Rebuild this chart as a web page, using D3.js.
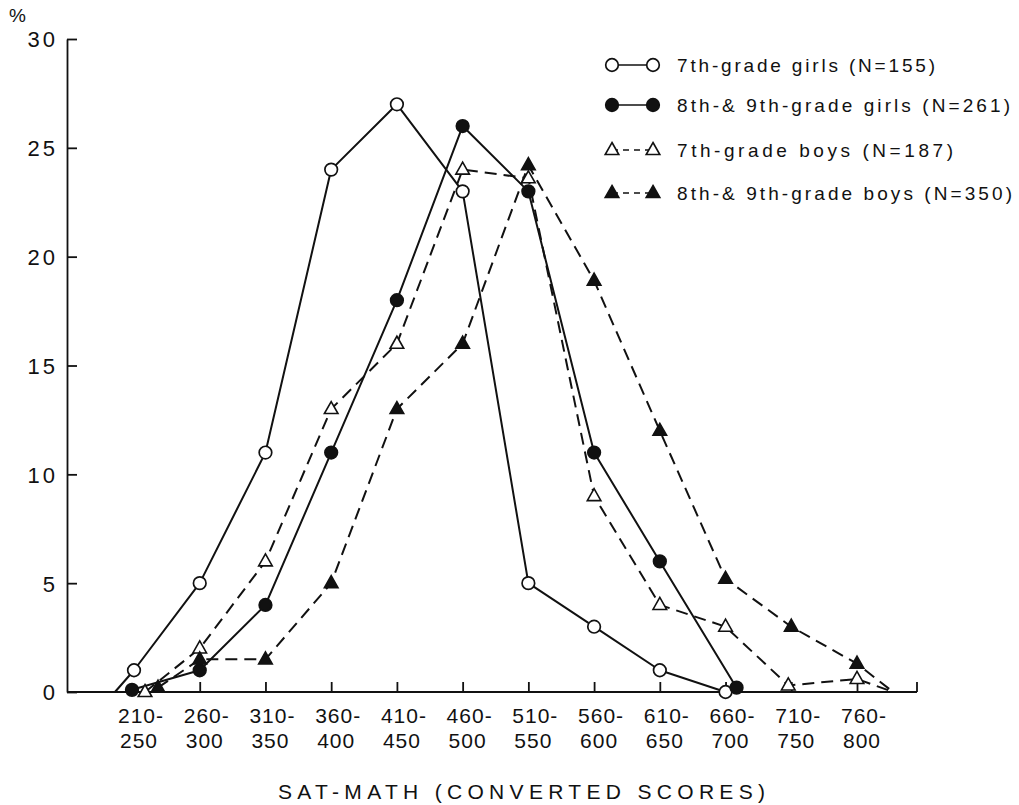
<!DOCTYPE html>
<html>
<head>
<meta charset="utf-8">
<script src="https://cdn.jsdelivr.net/npm/d3@7"></script>
<style>
  html, body { margin: 0; padding: 0; background: #fff; }
  svg text { font-family: "Liberation Sans", Arial, sans-serif; font-weight: 400; fill: #111; }
</style>
</head>
<body>
<svg id="chart" width="1019" height="805"></svg>
<script>
// Score bands (two-line category labels)
const scoreLow  = ["210", "260", "310", "360", "410", "460", "510", "560", "610", "660", "710", "760"];
const scoreHigh = ["250", "300", "350", "400", "450", "500", "550", "600", "650", "700", "750", "800"];
const yTicks = [0, 5, 10, 15, 20, 25, 30];

// Percent of each group in each score band (null = no point)
const girls7  = [1, 5, 11, 24, 27, 23, 5, 3, 1, 0, null, null];
const girls89 = [0.1, 1, 4, 11, 18, 26, 23, 11, 6, 0.2, null, null];
const boys7   = [0, 2, 6, 13, 16, 24, 23.6, 9, 4, 3, 0.3, 0.6];
const boys89  = [0.2, 1.5, 1.5, 5, 13, 16, 24.2, 18.9, 12, 5.2, 3, 1.3];

const seriesNames = [
  "7th-grade girls (N=155)",
  "8th-& 9th-grade girls (N=261)",
  "7th-grade boys (N=187)",
  "8th-& 9th-grade boys (N=350)"
];

// Drawing setup
const axisX = 67, axisTop = 39, axisBottom = 692, axisRight = 917;
const ink = "#111";
const fontFamily = '"Liberation Sans", Arial, sans-serif';

const svg = d3.select("#chart");

const x = d3.scaleLinear().domain([0, 11]).range([134, 857]);
const y = d3.scaleLinear().domain([0, 30]).range([axisBottom, axisTop]);

// Series styles; small sideways nudges keep markers that sit on the baseline apart
const series = [
  { values: girls7,  marker: "circle",   filled: false, dashed: false, leadIn: -0.29, tailOut: null,  nudge: {} },
  { values: girls89, marker: "circle",   filled: true,  dashed: false, leadIn: null,  tailOut: null,  nudge: { 0: -2, 9: 11 } },
  { values: boys7,   marker: "triangle", filled: false, dashed: true,  leadIn: null,  tailOut: 11.55, nudge: { 0: 11, 10: -3 } },
  { values: boys89,  marker: "triangle", filled: true,  dashed: true,  leadIn: null,  tailOut: 11.55, nudge: { 0: 24 } }
];

// Y axis with inward ticks
const yAxis = d3.axisLeft(y)
  .tickValues(yTicks)
  .tickSizeInner(-10)
  .tickSizeOuter(0)
  .tickPadding(9);

const gy = svg.append("g").attr("transform", `translate(${axisX},0)`).call(yAxis);
gy.select(".domain").attr("stroke", ink).attr("stroke-width", 1.8);
gy.selectAll(".tick line").attr("stroke", ink).attr("stroke-width", 1.8);
gy.selectAll(".tick text")
  .attr("font-size", 22)
  .attr("fill", ink)
  .attr("letter-spacing", 3)
  .style("font-family", fontFamily)
  .attr("dy", "0.36em");

svg.append("text")
  .attr("x", 9).attr("y", 22)
  .attr("font-size", 19)
  .text("%");

// Baseline with closing tick at the right end
svg.append("line")
  .attr("x1", axisX).attr("x2", axisRight)
  .attr("y1", axisBottom).attr("y2", axisBottom)
  .attr("stroke", ink).attr("stroke-width", 1.8);
svg.append("line")
  .attr("x1", axisRight).attr("x2", axisRight)
  .attr("y1", axisBottom).attr("y2", axisBottom - 10)
  .attr("stroke", ink).attr("stroke-width", 1.8);

const xAxis = d3.axisBottom(x)
  .tickValues(d3.range(1, scoreLow.length))
  .tickSizeInner(-10)
  .tickSizeOuter(0)
  .tickFormat("");
const gx = svg.append("g").attr("transform", `translate(0,${axisBottom})`).call(xAxis);
gx.select(".domain").remove();
gx.selectAll(".tick line").attr("stroke", ink).attr("stroke-width", 1.8);

// Two-line band labels: the lower bound (with its hyphen) over the upper bound,
// the numbers centred under each band position
const measure = svg.append("text").attr("font-size", 21).attr("letter-spacing", 1);
function textWidth(str) {
  measure.text(str);
  return measure.node().getComputedTextLength();
}
scoreLow.forEach((lo, i) => {
  const cx = x(i) + 3;
  const wLo = textWidth(lo);
  const wHi = textWidth(scoreHigh[i]);
  const t = svg.append("text").attr("font-size", 21).attr("letter-spacing", 1);
  t.append("tspan").attr("x", cx - wLo / 2).attr("y", 723).text(lo + "-");
  t.append("tspan").attr("x", cx + 2 - wHi / 2).attr("y", 748).text(scoreHigh[i]);
});
measure.remove();

svg.append("text")
  .attr("x", 278).attr("y", 799)
  .attr("font-size", 21)
  .attr("textLength", 487)
  .attr("lengthAdjust", "spacing")
  .text("SAT-MATH (CONVERTED SCORES)");

// Marker shapes
const triPath = "M0,-7.5L6.8,4.5L-6.8,4.5Z";
function drawMarker(g, px, py, s) {
  if (s.marker === "circle") {
    g.append("circle")
      .attr("cx", px).attr("cy", py).attr("r", 6.3)
      .attr("fill", s.filled ? ink : "#fff")
      .attr("stroke", ink).attr("stroke-width", 1.7);
  } else {
    g.append("path")
      .attr("d", triPath)
      .attr("transform", `translate(${px},${py})`)
      .attr("fill", s.filled ? ink : "#fff")
      .attr("stroke", ink).attr("stroke-width", 1.6);
  }
}

// Lines
series.forEach(s => {
  const pts = [];
  if (s.leadIn !== null) pts.push([x(s.leadIn), y(0)]);
  s.values.forEach((v, i) => {
    if (v === null) return;
    pts.push([x(i) + (s.nudge[i] || 0), y(v)]);
  });
  if (s.tailOut !== null) pts.push([x(s.tailOut), y(0)]);
  s.points = pts.slice(s.leadIn !== null ? 1 : 0, s.tailOut !== null ? -1 : undefined);

  svg.append("path")
    .attr("d", d3.line()(pts))
    .attr("fill", "none")
    .attr("stroke", ink)
    .attr("stroke-width", 2)
    .attr("stroke-linejoin", "round")
    .attr("stroke-dasharray", s.dashed ? "12,7" : null);
});

// Markers on top
const gm = svg.append("g");
series.forEach(s => {
  s.points.forEach(p => drawMarker(gm, p[0], p[1], s));
});

// Legend
const legendRows = [65, 105, 150, 193];
const legendWidths = [258, 333, 276, 335];
const lg = svg.append("g");
series.forEach((s, k) => {
  const ry = legendRows[k];
  lg.append("line")
    .attr("x1", 612).attr("x2", 653)
    .attr("y1", ry).attr("y2", ry)
    .attr("stroke", ink).attr("stroke-width", 1.7)
    .attr("stroke-dasharray", s.dashed ? "6,5" : null);
  drawMarker(lg, 612, ry, s);
  drawMarker(lg, 653, ry, s);
  lg.append("text")
    .attr("x", 677).attr("y", ry + 7)
    .attr("font-size", 19)
    .attr("textLength", legendWidths[k])
    .attr("lengthAdjust", "spacing")
    .text(seriesNames[k]);
});
</script>
</body>
</html>
